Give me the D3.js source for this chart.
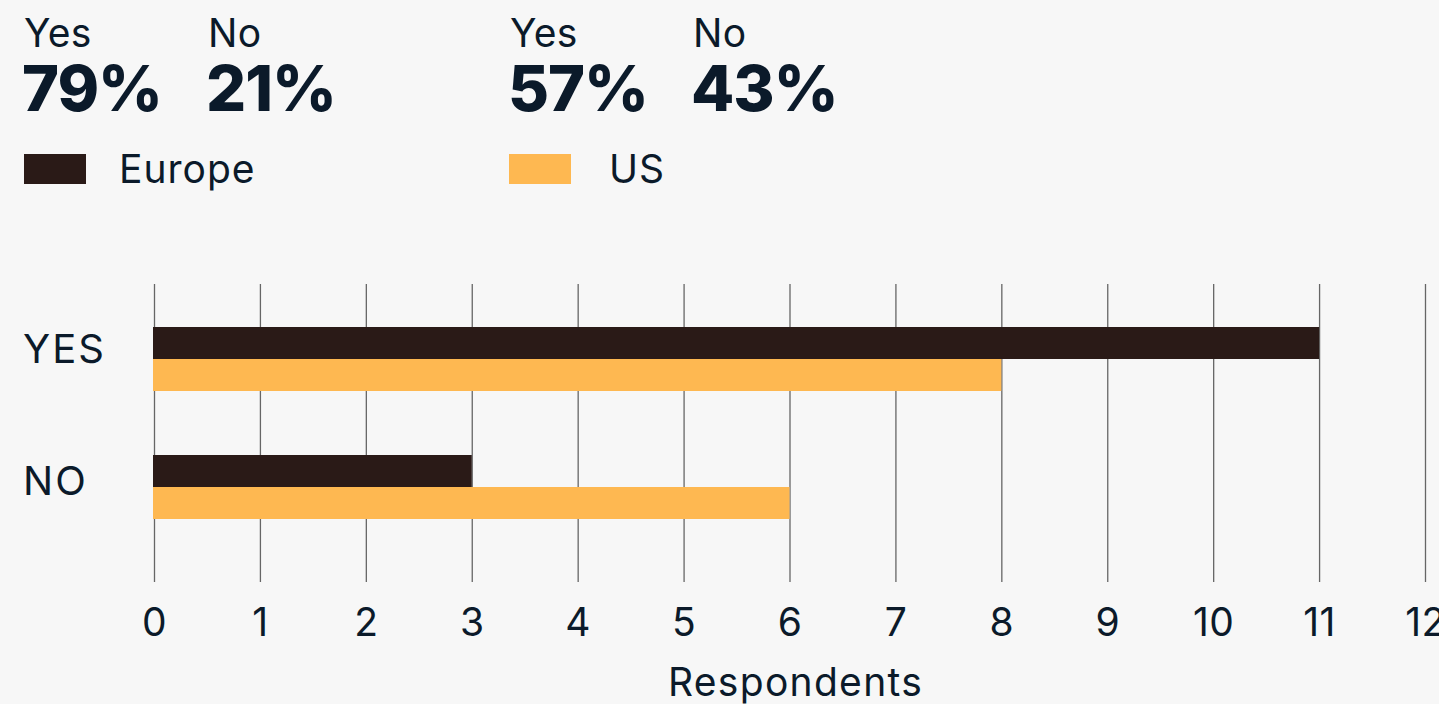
<!DOCTYPE html>
<html>
<head>
<meta charset="utf-8">
<script src="https://cdn.jsdelivr.net/npm/d3@7"></script>
<style>
  html, body { margin: 0; padding: 0; background: #f7f7f7; overflow: hidden; }
  svg { display: block; font-family: Inter, "Noto Sans", sans-serif; }
</style>
</head>
<body>
<svg id="chart" width="1439" height="704"></svg>
<script>
// Survey answers (respondent counts) by region
const categories = ["YES", "NO"];
const regions = ["Europe", "US"];
const europeValues = [11, 3];
const usValues = [8, 6];
const xTicks = [0, 1, 2, 3, 4, 5, 6, 7, 8, 9, 10, 11, 12];
const summaryLabels = ["Yes", "No"];
const europeShares = ["79%", "21%"];
const usShares = ["57%", "43%"];
const axisTitle = "Respondents";

const colors = { Europe: "#2a1a17", US: "#feb851" };
const textColor = "#0b1a2a";

const svg = d3.select("#chart");

// Summary blocks + legend
const blocks = [
  { name: "Europe", x: 24, shares: europeShares, colX: [24, 208], legendText: 119 },
  { name: "US", x: 509, shares: usShares, colX: [510, 693], legendText: 609 }
];
blocks.forEach(b => {
  const g = svg.append("g");
  summaryLabels.forEach((lab, i) => {
    g.append("text").attr("x", b.colX[i]).attr("y", 47)
      .attr("fill", textColor).attr("font-size", 39).attr("letter-spacing", 0.3).text(lab);
    g.append("text").attr("x", b.colX[i] - 2).attr("y", 111)
      .attr("fill", textColor).attr("font-size", 63).attr("font-weight", 800)
      .attr("letter-spacing", -1).text(b.shares[i]);
  });
  g.append("rect").attr("x", b.x).attr("y", 154).attr("width", 62).attr("height", 30)
    .attr("fill", colors[b.name]);
  g.append("text").attr("x", b.legendText).attr("y", 183)
    .attr("fill", textColor).attr("font-size", 39).attr("letter-spacing", 1).text(b.name);
});

// Scales
const x = d3.scaleLinear().domain([0, 12]).range([154, 1425]);
const y = d3.scaleBand().domain(categories).range([295, 551]).padding(0);
const ySub = d3.scaleBand().domain(regions)
  .range([y.bandwidth() / 2 - 32, y.bandwidth() / 2 + 32]).padding(0);

const gridTop = 284, gridBottom = 582;

// Axis with full-height gridlines
const axis = svg.append("g")
  .attr("transform", `translate(0,${gridBottom})`)
  .call(d3.axisBottom(x).tickValues(xTicks).tickFormat(d3.format("d"))
    .tickSize(-(gridBottom - gridTop)).tickPadding(26));
axis.select(".domain").remove();
axis.selectAll(".tick line").attr("stroke", "#666").attr("stroke-width", 1.3);
axis.selectAll(".tick text").attr("fill", textColor).attr("font-size", 39)
  .attr("font-family", "Inter, sans-serif").attr("letter-spacing", 0.5);

// Bars
const data = categories.map((c, i) => ({
  cat: c,
  values: [{ region: "Europe", v: europeValues[i] }, { region: "US", v: usValues[i] }]
}));

const groups = svg.append("g").selectAll("g").data(data).join("g")
  .attr("transform", d => `translate(0,${y(d.cat)})`);
groups.selectAll("rect").data(d => d.values).join("rect")
  .attr("x", x(0) - 1)
  .attr("y", d => ySub(d.region))
  .attr("width", d => x(d.v) - x(0) + 1)
  .attr("height", ySub.bandwidth())
  .attr("fill", d => colors[d.region]);

// Category labels
svg.append("g").selectAll("text").data(categories).join("text")
  .attr("x", 23)
  .attr("y", (d, i) => y(d) + y.bandwidth() / 2 + (i === 0 ? 4 : 8))
  .attr("fill", textColor).attr("font-size", 40).attr("letter-spacing", 2).text(d => d);

// Axis title
svg.append("text")
  .attr("x", (x(0) + x(12)) / 2 + 6).attr("y", 696)
  .attr("text-anchor", "middle").attr("fill", textColor).attr("font-size", 39)
  .attr("letter-spacing", 1.3)
  .text(axisTitle);
</script>
</body>
</html>
